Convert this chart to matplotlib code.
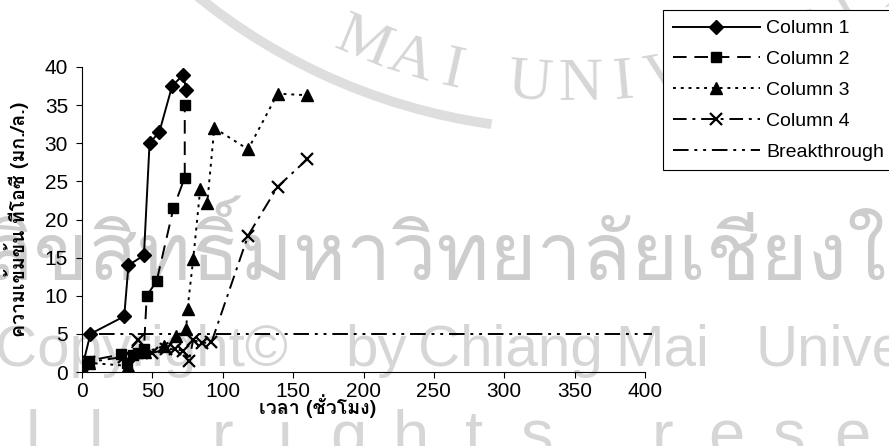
import numpy as np
import matplotlib
matplotlib.use('Agg')
import matplotlib.pyplot as plt
from matplotlib import font_manager, ft2font, patches

# TOC in the effluent (mg/L) against run time (h) for the four columns
time_c1 = [0, 6, 30, 33, 44, 48, 55, 64, 72, 74]
toc_c1 = [0.5, 5.0, 7.3, 14.0, 15.3, 30.0, 31.5, 37.5, 39.0, 37.0]

time_c2 = [0, 5, 28, 32, 36, 40, 44, 46, 53, 65, 73, 73]
toc_c2 = [0.3, 1.5, 2.3, 1.2, 2.2, 2.5, 3.0, 10.0, 11.9, 21.5, 25.5, 35.0]

time_c3 = [0, 5, 33, 45, 58, 67, 74, 75, 79, 84, 89, 94, 118, 139, 160]
toc_c3 = [0.3, 1.2, 0.8, 2.6, 3.4, 4.7, 5.6, 8.3, 14.8, 24.0, 22.2, 32.0, 29.2, 36.5, 36.3]

time_c4 = [0, 5, 30, 40, 50, 60, 66, 72, 76, 79, 85, 92, 118, 139, 160]
toc_c4 = [0.5, 1.3, 2.0, 4.2, 2.5, 3.0, 3.0, 2.8, 1.5, 4.2, 3.8, 3.9, 17.9, 24.3, 27.9]

breakthrough_time = [12, 405]
breakthrough_toc = [5, 5]

series_names = ['Column 1', 'Column 2', 'Column 3', 'Column 4', 'Breakthrough']
x_ticks = [0, 50, 100, 150, 200, 250, 300, 350, 400]
y_ticks = [0, 5, 10, 15, 20, 25, 30, 35, 40]
x_title = 'เวลา (ชั่วโมง)'
y_title = 'ความเข้มข้น ทีโอซี (มก./ล.)'


def thai_family():
    # first installed font that actually has Thai glyphs
    for f in font_manager.fontManager.ttflist:
        try:
            ft = ft2font.FT2Font(f.fname)
        except Exception:
            continue
        if ft.get_char_index(0x0E01) and ft.get_char_index(0x0E27):
            return f.name
    return 'DejaVu Sans'


THAI = thai_family()
plt.rcParams['font.family'] = ['Liberation Sans', THAI, 'DejaVu Sans']

W, H = 889, 446
fig = plt.figure(figsize=(W / 100, H / 100), dpi=100)


def fx(px):
    return px / W


def fy(py):
    return 1 - py / H


# ---- watermark (drawn first, behind everything) ----
wm = '#d6d6d6'
cx, cy = 575, H + 470          # seal centre in pixels, y up
ring = patches.Arc((cx / 100, cy / 100), 12.0, 12.0, theta1=228, theta2=262,
                   transform=fig.dpi_scale_trans, color='#dedede', lw=7,
                   zorder=0)
fig.add_artist(ring)

seal_text = 'MAI UNIVERSITY'
widths = {'I': 3.8, ' ': 3.5}
ang = -112.4
prev = None
for ch in seal_text:
    w = widths.get(ch, 5.2)
    if prev is not None:
        ang += (prev + w) / 2
    prev = w
    if ch == ' ':
        continue
    r = 570
    px = cx + r * np.cos(np.radians(ang))
    py = cy + r * np.sin(np.radians(ang))
    fig.text(px / W, py / H, ch, rotation=ang + 90, rotation_mode='anchor',
             ha='center', va='baseline', fontsize=44, color=wm,
             family=['Liberation Serif', 'DejaVu Serif'], zorder=0)

fig.text(fx(-15), fy(280), 'ลิขสิทธิ์มหาวิทยาลัยเชียงใหม่', fontsize=58,
         color='#cdcdcd', ha='left', va='baseline',
         family=[THAI, 'DejaVu Sans'], zorder=0)

for word, x0 in [('Copyright©', -5), ('by', 345), ('Chiang', 418),
                 ('Mai', 615), ('University', 755)]:
    fig.text(fx(x0), fy(366), word, fontsize=42, color=wm, ha='left',
             va='baseline', family=['Liberation Sans', 'DejaVu Sans'],
             zorder=0)

for i, ch in enumerate('All rights reserved'):
    if ch == ' ':
        continue
    fig.text(fx(-30 + 63 * i), fy(456), ch, fontsize=47, color=wm,
             ha='center', va='baseline',
             family=['Liberation Sans', 'DejaVu Sans'], zorder=0)

# ---- chart ----
ax = fig.add_axes([fx(82), fy(372), fx(645) - fx(82), fy(67) - fy(372)])
ax.set_zorder(2)
ax.patch.set_alpha(0)

lw = 1.4
ax.plot(time_c1, toc_c1, color='black', lw=lw, ls='-', marker='D', ms=7,
        label=series_names[0])
ax.plot(time_c2, toc_c2, color='black', lw=lw, ls=(0, (7, 4)), marker='s',
        ms=6.5, label=series_names[1])
ax.plot(time_c3, toc_c3, color='black', lw=lw, ls=(0, (1.5, 2.5)), marker='^',
        ms=8, label=series_names[2])
ax.plot(time_c4, toc_c4, color='black', lw=lw, ls=(0, (7, 3, 1.5, 3)),
        marker='x', ms=9, mew=1.6, label=series_names[3])
ax.plot(breakthrough_time, breakthrough_toc, color='black', lw=lw,
        ls=(0, (8, 3, 1.5, 3, 1.5, 3)), clip_on=False, label=series_names[4])

ax.set_xlim(0, 400)
ax.set_ylim(0, 40)
ax.set_xticks(x_ticks)
ax.set_yticks(y_ticks)
ax.tick_params(direction='out', length=4, width=0.8, labelsize=15)
ax.tick_params(axis='x', pad=3)
ax.tick_params(axis='y', pad=6)
for s in ['top', 'right']:
    ax.spines[s].set_visible(False)
for s in ['left', 'bottom']:
    ax.spines[s].set_linewidth(0.8)

ax.set_xlabel(x_title, fontsize=14, fontweight='bold',
              family=[THAI, 'Liberation Sans', 'DejaVu Sans'])
ax.xaxis.set_label_coords((318 - 82) / (645 - 82), -0.072)
ax.set_ylabel(y_title, fontsize=14, fontweight='bold',
              family=[THAI, 'Liberation Sans', 'DejaVu Sans'])
ax.yaxis.set_label_coords(-0.095, 0.5)

leg = ax.legend(loc='upper left', bbox_to_anchor=(fx(663), fy(10)),
                bbox_transform=fig.transFigure, borderaxespad=0, fontsize=14,
                handlelength=4.5, handletextpad=0.3, labelspacing=0.68,
                borderpad=0.5, fancybox=False, framealpha=1,
                edgecolor='black')
leg.get_frame().set_linewidth(0.8)

fig.savefig('out.png', dpi=100)
